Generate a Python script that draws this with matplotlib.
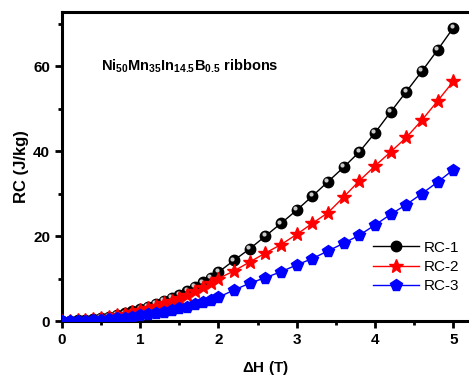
import matplotlib
matplotlib.use('Agg')
import matplotlib.pyplot as plt
import matplotlib.transforms as mtransforms
import numpy as np

plt.rcParams['font.family'] = ['Liberation Sans', 'DejaVu Sans']
plt.rcParams['mathtext.fontset'] = 'custom'
plt.rcParams['mathtext.bf'] = 'Liberation Sans:bold'
plt.rcParams['mathtext.rm'] = 'Liberation Sans'

# field values (T): 0.1 steps up to 2 T, then 0.2 steps
dH = [0.0, 0.1, 0.2, 0.3, 0.4, 0.5, 0.6, 0.7, 0.8, 0.9, 1.0,
      1.1, 1.2, 1.3, 1.4, 1.5, 1.6, 1.7, 1.8, 1.9, 2.0,
      2.2, 2.4, 2.6, 2.8, 3.0, 3.2, 3.4, 3.6, 3.8, 4.0,
      4.2, 4.4, 4.6, 4.8, 5.0]

rc1 = [0.0, 0.05, 0.15, 0.3, 0.5, 0.75, 1.05, 1.4, 1.8, 2.3, 2.8,
       3.4, 4.0, 4.7, 5.4, 6.2, 7.1, 8.0, 9.1, 10.2, 11.5,
       14.3, 17.0, 20.0, 23.0, 26.1, 29.4, 32.8, 36.2, 39.8, 44.3,
       49.2, 54.0, 58.8, 63.8, 69.0]

rc2 = [0.0, 0.05, 0.15, 0.3, 0.5, 0.7, 1.0, 1.3, 1.7, 2.1, 2.6,
       3.1, 3.6, 4.2, 4.8, 5.5, 6.2, 7.0, 7.9, 8.9, 10.0,
       11.8, 13.9, 16.0, 18.0, 20.4, 23.0, 25.5, 29.2, 33.0, 36.5,
       39.8, 43.2, 47.3, 51.8, 56.4]

rc3 = [0.0, 0.02, 0.05, 0.1, 0.2, 0.3, 0.45, 0.6, 0.8, 1.0, 1.3,
       1.6, 1.9, 2.2, 2.6, 3.0, 3.4, 3.9, 4.4, 5.0, 5.6,
       7.3, 8.9, 10.2, 11.6, 13.2, 14.7, 16.5, 18.3, 20.2, 22.6,
       25.1, 27.4, 30.0, 32.7, 35.6]

labels = ['RC-1', 'RC-2', 'RC-3']

fig = plt.figure(figsize=(4.69, 3.77), dpi=100)
ax = fig.add_axes([0.132, 0.1485, 0.868, 0.8196])

ax.plot(dH, rc1, color='black', lw=1, marker='o', ms=7.5,
        mfc='black', mec='black', label=labels[0], zorder=3)
# little highlight on the black balls
shift = mtransforms.ScaledTranslation(-1.2 / 72, 1.2 / 72, fig.dpi_scale_trans)
ax.plot(dH, rc1, ls='none', marker='o', ms=3, mfc='#c8c8c8', mec='none',
        transform=ax.transData + shift, zorder=3.1)
ax.plot(dH, rc2, color='red', lw=1, marker='*', ms=10,
        mfc='red', mec='red', label=labels[1], zorder=4)
ax.plot(dH, rc3, color='blue', lw=1, marker='p', ms=8.5,
        mfc='blue', mec='blue', label=labels[2], zorder=5)

ax.set_xlim(0, 5.2)
ax.set_ylim(0, 72.7)
ax.set_xticks([0, 1, 2, 3, 4, 5])
ax.set_xticks(np.arange(0.5, 5.2, 1.0), minor=True)
ax.set_yticks([0, 20, 40, 60])
ax.set_yticks([10, 30, 50, 70], minor=True)

for s in ['left', 'bottom', 'top']:
    ax.spines[s].set_linewidth(2.2)
ax.spines['right'].set_visible(False)
ax.tick_params(which='major', direction='out', length=5, width=2, labelsize=11)
ax.tick_params(which='minor', direction='out', length=3, width=2)
for lab in ax.get_xticklabels() + ax.get_yticklabels():
    lab.set_fontweight('bold')

ax.set_xlabel(r'$\mathbf{\Delta}$H (T)', fontsize=11, fontweight='bold', labelpad=9)
ax.set_ylabel('RC (J/kg)', fontsize=12, fontweight='bold', labelpad=3)

ax.text(0.5, 60, r'$\mathbf{Ni_{50}Mn_{35}In_{14.5}B_{0.5}}$ ribbons',
        fontsize=10.5, fontweight='bold', va='center', ha='left')

leg = ax.legend(handles=ax.lines[:1] + ax.lines[2:], labels=labels,
                loc='upper left', bbox_to_anchor=(0.75, 0.28), frameon=False,
                fontsize=11, handlelength=3.0, handletextpad=0.3,
                labelspacing=0.35, borderaxespad=0)

fig.savefig('out.png', dpi=100)
